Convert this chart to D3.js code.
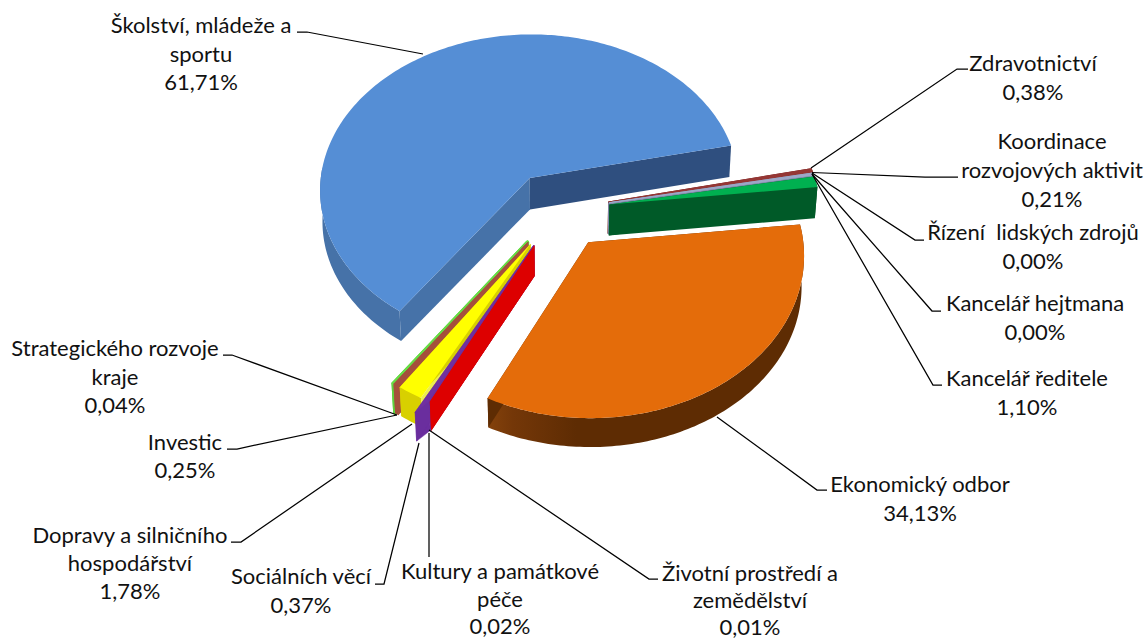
<!DOCTYPE html>
<html><head><meta charset="utf-8">
<script src="https://cdn.jsdelivr.net/npm/d3@7/dist/d3.min.js"></script>
<style>html,body{margin:0;padding:0;background:#fff}svg{display:block}text{font-family:Lato,"Open Sans",sans-serif;fill:#111;white-space:pre}</style>
</head><body><div id="chart"></div>
<script>
// ---- data ----
const categories = ["Školství, mládeže a sportu","Zdravotnictví","Koordinace rozvojových aktivit","Řízení  lidských zdrojů","Kancelář hejtmana","Kancelář ředitele","Ekonomický odbor","Životní prostředí a zemědělství","Kultury a památkové péče","Sociálních věcí","Dopravy a silničního hospodářství","Investic","Strategického rozvoje kraje"];
const values = [61.71,0.38,0.21,0.00,0.00,1.10,34.13,0.01,0.02,0.37,1.78,0.25,0.04];
const labelLines = [["Školství, mládeže a","sportu"],["Zdravotnictví"],["Koordinace","rozvojových aktivit"],["Řízení  lidských zdrojů"],["Kancelář hejtmana"],["Kancelář ředitele"],["Ekonomický odbor"],["Životní prostředí a","zemědělství"],["Kultury a památkové","péče"],["Sociálních věcí"],["Dopravy a silničního","hospodářství"],["Investic"],["Strategického rozvoje","kraje"]];

// ---- styles ----
const topColors  = ["#558ED5","#953735","#9DA8C8","#777","#777","#00B050","#E46C0A","#DD0000","#7030A0","#7030A0","#FFFF00","#A5503C","#66DD44"];
const wallColors = ["#4672A8","#7a2c2a","#7f8bab","#555","#555","#005A28","url(#gOrange)","#DD0000","#6A2E9E","#6A2E9E","#D8D000","#A5503C","#5FD23E"];
const startWall  = ["#4672A8","#7a2c2a","#7f8bab","#555","#555","#005A28","#5E2C03","#DD0000","#6A2E9E","#6A2E9E","#EDED50","#A5503C","#5FD23E"];
const endWall    = ["#2F4F7F","#7a2c2a","#7f8bab","#555","#555","#005A28","#5E2C03","#DD0000","#6A2E9E","#6A2E9E","#D8D000","#A5503C","#5FD23E"];
const edgeWidth  = [0,1.2,1,0,0,0,0,0,0,0.5,0,0.8,3.2];
const rimStretch = [1,1,1,1,1,1,1,1,1,1.077,1,1,1];

// ---- layout (label anchor, baseline of first line, leader polyline) ----
const labelLayout = [
 {x:201,y:33,dy:28.5,lead:[[297,32],[307,32],[423,54]]},
 {x:1033,y:71,dy:28.5,lead:[[968,69],[957,69],[811,168]]},
 {x:1052,y:149,dy:29,lead:[[958,177],[925,177],[812,172.5]]},
 {x:1033,y:240,dy:29,lead:[[924,240],[915,240],[812,173]]},
 {x:1035,y:311,dy:29,lead:[[941,311],[932,311],[812,174]]},
 {x:1027,y:386,dy:29,lead:[[942,385],[933,385],[812,174]]},
 {x:920,y:492,dy:28.5,lead:[[827,490],[817,490],[717,417]]},
 {x:750,y:581,dy:27,lead:[[658,579],[649,579],[429,430]]},
 {x:500,y:579,dy:27.5,lead:[[429,557],[429,433]]},
 {x:301,y:584,dy:29,lead:[[375,584],[384,584],[419,443]]},
 {x:130,y:543,dy:28,lead:[[231,542],[241,542],[412,424]]},
 {x:185,y:450,dy:27.5,lead:[[227,449],[237,449],[397,415]]},
 {x:115,y:356,dy:28.5,lead:[[223,355],[232,355],[397,415]]}
];
const W=1146,H=639,cx=558,cy=210,R=212,explode=52,persp=0.0717,tilt=0.747,depth=31,fontSize=22;
const rad=Math.PI/180;

const svg=d3.select("#chart").append("svg").attr("width",W).attr("height",H).attr("viewBox",[0,0,W,H]);
const defs=svg.append("defs");
const go=defs.append("linearGradient").attr("id","gOrange");
[[0,"#84420B"],[.08,"#743708"],[.28,"#5E2C03"],[1,"#5E2C03"]].forEach(s=>go.append("stop").attr("offset",s[0]).attr("stop-color",s[1]));

const pie=d3.pie().sort(null).value(v=>v).startAngle(215.4*rad).endAngle((215.4+360)*rad);
const radius=d3.scaleLinear().domain([0,1]).range([0,R]);
const arcs=pie(values).map((a,i)=>({...a,i,mid:(a.startAngle+a.endAngle)/2}));
const line=d3.line();

function proj(a,th,r,low){
  const X=explode*Math.sin(a.mid)+radius(r)*Math.sin(th);
  const Y=-explode*Math.cos(a.mid)-radius(r)*Math.cos(th);
  const s=1/(1-persp*Y/R)*(low?0.99:1);
  return [cx+X*s, cy+tilt*Y*s+(low?depth:0)];
}
function rim(a,low){
  const st=rimStretch[a.i];
  const n=Math.max(2,Math.ceil((a.endAngle-a.startAngle)/rad));
  return d3.range(n+1).map(k=>{const t=k/n;return proj(a,a.startAngle+t*(a.endAngle-a.startAngle),1+(st-1)*t,low);});
}
const order=arcs.filter(a=>a.value>0).sort((p,q)=>d3.ascending(-explode*Math.cos(p.mid),-explode*Math.cos(q.mid)));
const gp=svg.append("g");
const slices=gp.selectAll("g").data(order).join("g");
function face(sel,cls,pts,col,sw){
  sel.append("path").attr("class",cls).attr("d",line(pts)+"Z").attr("fill",col)
     .attr("stroke",sw>0?col:"none").attr("stroke-width",sw).attr("stroke-linejoin","round");
}
slices.each(function(a){
  const g=d3.select(this),sw=edgeWidth[a.i];
  const top=rim(a,false),low=rim(a,true);
  const c=proj(a,a.mid,0,false),cl=proj(a,a.mid,0,true);
  // the far part of the rim band pokes out past the flat faces, so keep only its front portion
  const visible=top.map((p,k)=>[p,low[k]]).filter(d=>d[1][1]>cl[1]-depth*0.4||a.i!==0);
  face(g,"wall-outer",visible.map(d=>d[0]).concat(visible.map(d=>d[1]).reverse()),wallColors[a.i],sw);
  face(g,"wall-start",[c,top[0],low[0],cl],startWall[a.i],sw);
  face(g,"wall-end",[c,top[top.length-1],low[low.length-1],cl],endWall[a.i],sw);
  face(g,"top",[c].concat(top),topColors[a.i],sw);
});

const leader=svg.append("g").attr("fill","none").attr("stroke","#000").attr("stroke-width",1.25);
leader.selectAll("path").data(labelLayout).join("path").attr("d",d=>line(d.lead));

const fmt=d3.formatLocale({decimal:",",thousands:" ",grouping:[3],currency:["",""]}).format(".2f");
const labels=svg.append("g").attr("font-size",fontSize).attr("text-anchor","middle");
categories.forEach((c,i)=>{
  const l=labelLayout[i];
  labelLines[i].concat([fmt(values[i])+"%"]).forEach((t,k)=>{
    labels.append("text").attr("x",l.x).attr("y",l.y+k*l.dy).attr("xml:space","preserve").text(t);
  });
});
</script></body></html>
